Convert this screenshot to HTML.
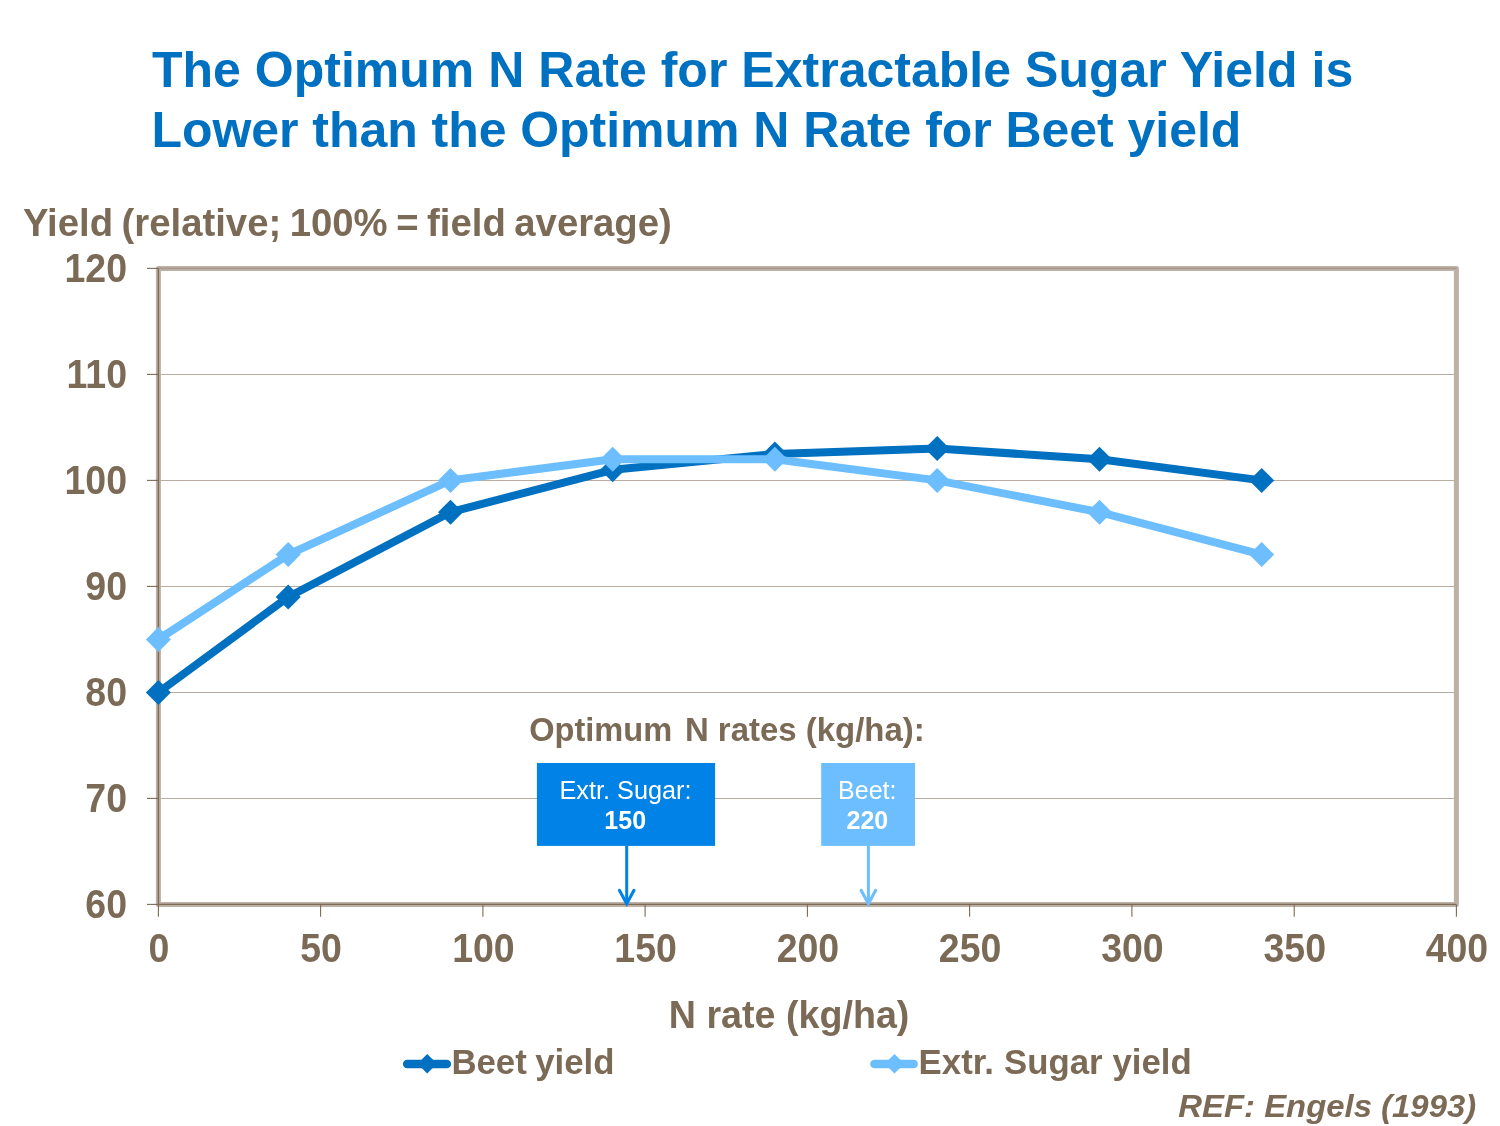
<!DOCTYPE html>
<html lang="en">
<head>
<meta charset="utf-8">
<title>The Optimum N Rate for Extractable Sugar Yield</title>
<style>
html,body{margin:0;padding:0;background:#fff;}
body{width:1500px;height:1126px;overflow:hidden;}
svg{display:block;}
text{font-family:"Liberation Sans",Arial,Helvetica,sans-serif;}
.b{font-weight:bold;}
.ax{font-weight:bold;font-size:37.5px;fill:#7b6a56;}
.lg{font-weight:bold;font-size:34.8px;fill:#7b6a56;}
</style>
</head>
<body>
<svg width="1500" height="1126" viewBox="0 0 1500 1126">
<rect x="0" y="0" width="1500" height="1126" fill="#ffffff"/>
<text x="151.9" y="87.4" class="b" font-size="50" fill="#0070c0" textLength="1201.3" lengthAdjust="spacing">The Optimum N Rate for Extractable Sugar Yield is</text>
<text x="151.5" y="147.0" class="b" font-size="50" fill="#0070c0" textLength="1089.8" lengthAdjust="spacing">Lower than the Optimum N Rate for Beet yield</text>
<text transform="translate(23.0,236.2) scale(1,1.025)" class="ax" style="font-size:38.3px;word-spacing:-2.1px">Yield (relative; 100% = field average)</text>
<line x1="158.4" y1="798.4" x2="1456.4" y2="798.4" stroke="#b9ada1" stroke-width="1.05"/>
<line x1="158.4" y1="692.4" x2="1456.4" y2="692.4" stroke="#b9ada1" stroke-width="1.05"/>
<line x1="158.4" y1="586.4" x2="1456.4" y2="586.4" stroke="#b9ada1" stroke-width="1.05"/>
<line x1="158.4" y1="480.4" x2="1456.4" y2="480.4" stroke="#b9ada1" stroke-width="1.05"/>
<line x1="158.4" y1="374.4" x2="1456.4" y2="374.4" stroke="#b9ada1" stroke-width="1.05"/>
<line x1="158.4" y1="268.4" x2="1456.4" y2="268.4" stroke="#b9ada1" stroke-width="1.05"/>
<rect x="158.4" y="268.4" width="1298.0" height="636.0" fill="none" stroke="#bdb1a6" stroke-width="5" stroke-linejoin="round"/>
<line x1="158.4" y1="268.4" x2="1456.4" y2="268.4" stroke="#a3968a" stroke-width="1.2"/>
<line x1="158.4" y1="268.4" x2="158.4" y2="904.4" stroke="#7b6a56" stroke-width="1.35"/>
<line x1="158.4" y1="904.4" x2="1456.4" y2="904.4" stroke="#7b6a56" stroke-width="1.35"/>
<line x1="147" y1="904.4" x2="158.4" y2="904.4" stroke="#7b6a56" stroke-width="1.1"/>
<text transform="translate(127,903.5) scale(1,1.06)" y="13.4" class="ax" text-anchor="end">60</text>
<line x1="147" y1="798.4" x2="158.4" y2="798.4" stroke="#7b6a56" stroke-width="1.1"/>
<text transform="translate(127,797.5) scale(1,1.06)" y="13.4" class="ax" text-anchor="end">70</text>
<line x1="147" y1="692.4" x2="158.4" y2="692.4" stroke="#7b6a56" stroke-width="1.1"/>
<text transform="translate(127,691.5) scale(1,1.06)" y="13.4" class="ax" text-anchor="end">80</text>
<line x1="147" y1="586.4" x2="158.4" y2="586.4" stroke="#7b6a56" stroke-width="1.1"/>
<text transform="translate(127,585.5) scale(1,1.06)" y="13.4" class="ax" text-anchor="end">90</text>
<line x1="147" y1="480.4" x2="158.4" y2="480.4" stroke="#7b6a56" stroke-width="1.1"/>
<text transform="translate(127,479.5) scale(1,1.06)" y="13.4" class="ax" text-anchor="end">100</text>
<line x1="147" y1="374.4" x2="158.4" y2="374.4" stroke="#7b6a56" stroke-width="1.1"/>
<text transform="translate(127,373.5) scale(1,1.06)" y="13.4" class="ax" text-anchor="end">110</text>
<line x1="147" y1="268.4" x2="158.4" y2="268.4" stroke="#7b6a56" stroke-width="1.1"/>
<text transform="translate(127,267.5) scale(1,1.06)" y="13.4" class="ax" text-anchor="end">120</text>
<line x1="158.4" y1="904.4" x2="158.4" y2="916.8" stroke="#7b6a56" stroke-width="1.1"/>
<text transform="translate(158.9,948.0) scale(1,1.06)" y="13.4" class="ax" text-anchor="middle">0</text>
<line x1="320.6" y1="904.4" x2="320.6" y2="916.8" stroke="#7b6a56" stroke-width="1.1"/>
<text transform="translate(321.1,948.0) scale(1,1.06)" y="13.4" class="ax" text-anchor="middle">50</text>
<line x1="482.9" y1="904.4" x2="482.9" y2="916.8" stroke="#7b6a56" stroke-width="1.1"/>
<text transform="translate(483.4,948.0) scale(1,1.06)" y="13.4" class="ax" text-anchor="middle">100</text>
<line x1="645.1" y1="904.4" x2="645.1" y2="916.8" stroke="#7b6a56" stroke-width="1.1"/>
<text transform="translate(645.6,948.0) scale(1,1.06)" y="13.4" class="ax" text-anchor="middle">150</text>
<line x1="807.4" y1="904.4" x2="807.4" y2="916.8" stroke="#7b6a56" stroke-width="1.1"/>
<text transform="translate(807.9,948.0) scale(1,1.06)" y="13.4" class="ax" text-anchor="middle">200</text>
<line x1="969.6" y1="904.4" x2="969.6" y2="916.8" stroke="#7b6a56" stroke-width="1.1"/>
<text transform="translate(970.1,948.0) scale(1,1.06)" y="13.4" class="ax" text-anchor="middle">250</text>
<line x1="1131.9" y1="904.4" x2="1131.9" y2="916.8" stroke="#7b6a56" stroke-width="1.1"/>
<text transform="translate(1132.4,948.0) scale(1,1.06)" y="13.4" class="ax" text-anchor="middle">300</text>
<line x1="1294.2" y1="904.4" x2="1294.2" y2="916.8" stroke="#7b6a56" stroke-width="1.1"/>
<text transform="translate(1294.7,948.0) scale(1,1.06)" y="13.4" class="ax" text-anchor="middle">350</text>
<line x1="1456.4" y1="904.4" x2="1456.4" y2="916.8" stroke="#7b6a56" stroke-width="1.1"/>
<text transform="translate(1456.9,948.0) scale(1,1.06)" y="13.4" class="ax" text-anchor="middle">400</text>
<polyline points="158.4,692.4 288.2,597.0 450.5,512.2 612.7,469.8 774.9,453.9 937.2,448.6 1099.5,459.2 1261.7,480.4" fill="none" stroke="#0070c0" stroke-width="8" stroke-linejoin="round" stroke-linecap="round"/>
<path d="M145.9 692.4L158.4 679.9L170.9 692.4L158.4 704.9Z" fill="#0070c0"/>
<path d="M275.7 597.0L288.2 584.5L300.7 597.0L288.2 609.5Z" fill="#0070c0"/>
<path d="M438.0 512.2L450.5 499.7L463.0 512.2L450.5 524.7Z" fill="#0070c0"/>
<path d="M600.2 469.8L612.7 457.3L625.2 469.8L612.7 482.3Z" fill="#0070c0"/>
<path d="M762.4 453.9L774.9 441.4L787.4 453.9L774.9 466.4Z" fill="#0070c0"/>
<path d="M924.7 448.6L937.2 436.1L949.7 448.6L937.2 461.1Z" fill="#0070c0"/>
<path d="M1087.0 459.2L1099.5 446.7L1112.0 459.2L1099.5 471.7Z" fill="#0070c0"/>
<path d="M1249.2 480.4L1261.7 467.9L1274.2 480.4L1261.7 492.9Z" fill="#0070c0"/>
<polyline points="158.4,639.4 288.2,554.6 450.5,480.4 612.7,459.2 774.9,459.2 937.2,480.4 1099.5,512.2 1261.7,554.6" fill="none" stroke="#6cbeff" stroke-width="8" stroke-linejoin="round" stroke-linecap="round"/>
<path d="M145.9 639.4L158.4 626.9L170.9 639.4L158.4 651.9Z" fill="#6cbeff"/>
<path d="M275.7 554.6L288.2 542.1L300.7 554.6L288.2 567.1Z" fill="#6cbeff"/>
<path d="M438.0 480.4L450.5 467.9L463.0 480.4L450.5 492.9Z" fill="#6cbeff"/>
<path d="M600.2 459.2L612.7 446.7L625.2 459.2L612.7 471.7Z" fill="#6cbeff"/>
<path d="M762.4 459.2L774.9 446.7L787.4 459.2L774.9 471.7Z" fill="#6cbeff"/>
<path d="M924.7 480.4L937.2 467.9L949.7 480.4L937.2 492.9Z" fill="#6cbeff"/>
<path d="M1087.0 512.2L1099.5 499.7L1112.0 512.2L1099.5 524.7Z" fill="#6cbeff"/>
<path d="M1249.2 554.6L1261.7 542.1L1274.2 554.6L1261.7 567.1Z" fill="#6cbeff"/>
<text y="741.4" class="b" font-size="32.6" fill="#7b6a56" xml:space="preserve"><tspan x="529.2">Optimum </tspan><tspan x="684.9" font-size="32.95">N rates (kg/ha):</tspan></text>
<rect x="536.9" y="763" width="178.2" height="82.9" fill="#0082e6"/>
<text x="625.5" y="798.6" font-size="25.25" fill="#fff" text-anchor="middle">Extr. Sugar:</text>
<text x="625.2" y="828.7" class="b" font-size="25" fill="#fff" text-anchor="middle">150</text>
<rect x="821.2" y="763" width="93.8" height="82.9" fill="#6cbeff"/>
<text x="867.3" y="798.6" font-size="25" fill="#fff" text-anchor="middle">Beet:</text>
<text x="867.4" y="828.7" class="b" font-size="25" fill="#fff" text-anchor="middle">220</text>
<path d="M626.7 846V903.5" fill="none" stroke="#0082e6" stroke-width="3"/>
<path d="M619.4000000000001 890.3L626.7 903.8L634.0 890.3" fill="none" stroke="#0082e6" stroke-width="3.1" stroke-linecap="round" stroke-linejoin="miter"/>
<path d="M868.4 846V903.5" fill="none" stroke="#6cbeff" stroke-width="3"/>
<path d="M861.1 890.3L868.4 903.8L875.6999999999999 890.3" fill="none" stroke="#6cbeff" stroke-width="3.1" stroke-linecap="round" stroke-linejoin="miter"/>
<text transform="translate(668.8,1028.1) scale(1,1.045)" class="ax" style="font-size:37.65px">N rate (kg/ha)</text>
<line x1="407.2" y1="1063.9" x2="446.8" y2="1063.9" stroke="#0070c0" stroke-width="8.5" stroke-linecap="round"/>
<path d="M417.4 1063.75L427.2 1053.95L437.0 1063.75L427.2 1073.55Z" fill="#0070c0"/>
<text transform="translate(451.4,1074.4) scale(1,1.02)" class="lg" style="word-spacing:-1.2px">Beet yield</text>
<line x1="874.4000000000001" y1="1063.9" x2="913.5999999999999" y2="1063.9" stroke="#6cbeff" stroke-width="8.5" stroke-linecap="round"/>
<path d="M884.7 1063.75L894.5 1053.95L904.3 1063.75L894.5 1073.55Z" fill="#6cbeff"/>
<text transform="translate(918.6,1074.4) scale(1,1.02)" class="lg" style="word-spacing:0.3px">Extr. Sugar yield</text>
<text transform="translate(1178.3,1116.5) scale(1,0.965)" class="b" font-style="italic" font-size="32.9" fill="#7b6a56">REF: Engels (1993)</text>
</svg>
</body>
</html>
